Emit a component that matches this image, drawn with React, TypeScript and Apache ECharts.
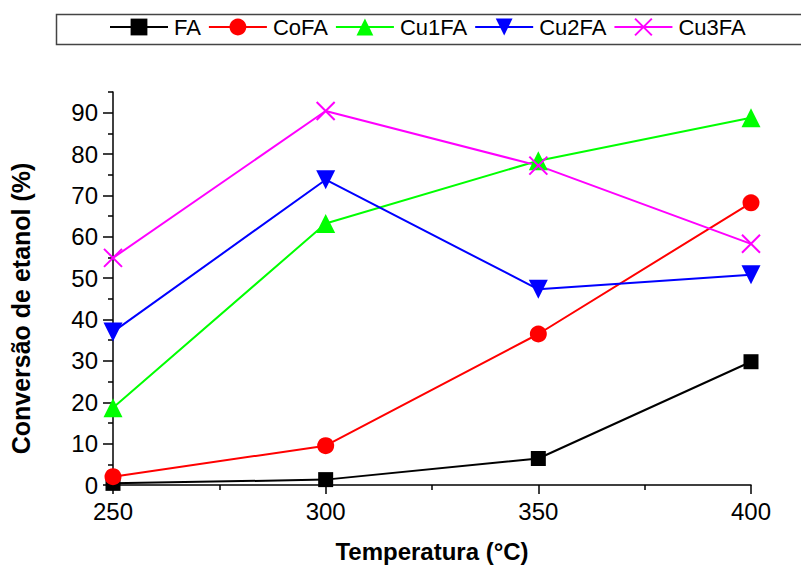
import React, { useEffect, useRef } from "react";
import * as echarts from "echarts";

const temperatures = [250, 300, 350, 400];
const seriesNames = ["FA", "CoFA", "Cu1FA", "Cu2FA", "Cu3FA"];
const faValues = [0.4, 1.3, 6.4, 29.8];
const cofaValues = [2.0, 9.5, 36.5, 68.2];
const cu1faValues = [18.7, 63.2, 78.4, 88.8];
const cu2faValues = [37.0, 73.8, 47.3, 50.8];
const cu3faValues = [54.9, 90.4, 77.2, 58.3];
const yMajorTicks = [0, 10, 20, 30, 40, 50, 60, 70, 80, 90];
const yMinorTicks = [5, 15, 25, 35, 45, 55, 65, 75, 85, 95];

const FONT = "'Liberation Sans', Arial, sans-serif";

export default function App() {
  const ref = useRef<HTMLDivElement>(null);
  useEffect(() => {
    if (!ref.current) return;
    const chart = echarts.init(ref.current, null, { renderer: "svg" });
    const mk = (name: string, data: number[], color: string, symbol: string, size: number, rotate = 0) => ({
      name,
      type: "line",
      data: temperatures.map((t, i) => [t, data[i]]),
      symbol,
      symbolSize: size,
      symbolRotate: rotate,
      showAllSymbol: true,
      lineStyle: { color, width: 2 },
      itemStyle: { color, borderColor: color, borderWidth: symbol.startsWith("path") ? 2 : 0 },
      emphasis: { disabled: true },
    });
    chart.setOption({
      animation: false,
      backgroundColor: "#ffffff",
      textStyle: { fontFamily: FONT },
      graphic: [
        {
          type: "rect",
          left: 54,
          top: 12,
          shape: { width: 770, height: 30 },
          style: { fill: "none", stroke: "#444", lineWidth: 1.5 },
          z: 0,
        },
      ],
      legend: {
        left: 109,
        top: 16,
        itemWidth: 58,
        itemHeight: 21,
        itemGap: 7,
        padding: 0,
        textStyle: { fontSize: 22, color: "#000", fontFamily: FONT, padding: [0, 0, 0, 1] },
        data: seriesNames,
      },
      grid: { left: 113, right: 50, top: 92, bottom: 80, containLabel: false, outerBoundsMode: "none" },
      xAxis: {
        type: "value",
        min: 250,
        max: 400,
        interval: 50,
        name: "Temperatura (°C)",
        nameLocation: "middle",
        nameGap: 56,
        nameTextStyle: { fontSize: 24, lineHeight: 20, fontWeight: "bold", color: "#000", fontFamily: FONT },
        axisLine: { show: true, lineStyle: { color: "#000", width: 1.5 } },
        axisTick: { show: true, length: 9, lineStyle: { color: "#000", width: 1.5 } },
        minorTick: { show: true, splitNumber: 2, length: 5, lineStyle: { color: "#000", width: 1.5 } },
        axisLabel: { fontSize: 24, color: "#000", margin: 14, fontFamily: FONT },
        splitLine: { show: false },
        minorSplitLine: { show: false },
      },
      yAxis: [
        {
          type: "value",
          min: 0,
          max: 95,
          interval: 10,
          name: "Conversão de etanol (%)",
          nameLocation: "middle",
          nameGap: 80,
          nameTextStyle: { fontSize: 25, fontWeight: "bold", color: "#000", fontFamily: FONT, padding: [0, 40, 0, 0] },
          axisLine: { show: true, lineStyle: { color: "#000", width: 1.5 } },
          axisTick: { show: true, length: 10, customValues: yMajorTicks, lineStyle: { color: "#000", width: 1.5 } },
          axisLabel: { fontSize: 24, color: "#000", margin: 15, customValues: yMajorTicks, fontFamily: FONT },
          splitLine: { show: false },
        },
        {
          type: "value",
          min: 0,
          max: 95,
          interval: 10,
          position: "left",
          axisLine: { show: false },
          axisTick: { show: true, length: 5, customValues: yMinorTicks, lineStyle: { color: "#000", width: 1.5 } },
          axisLabel: { show: false },
          splitLine: { show: false },
        },
      ],
      series: [
        mk("FA", faValues, "#000000", "rect", 15),
        mk("CoFA", cofaValues, "#ff0000", "circle", 17),
        mk("Cu1FA", cu1faValues, "#00ff00", "triangle", 19),
        mk("Cu2FA", cu2faValues, "#0000ff", "triangle", 19, 180),
        mk("Cu3FA", cu3faValues, "#ff00ff", "path://M0,0L10,10M0,10L10,0", 18),
      ],
    });
    return () => chart.dispose();
  }, []);
  return <div ref={ref} style={{ width: 801, height: 565, position: "absolute", left: 0, top: 0 }} />;
}
